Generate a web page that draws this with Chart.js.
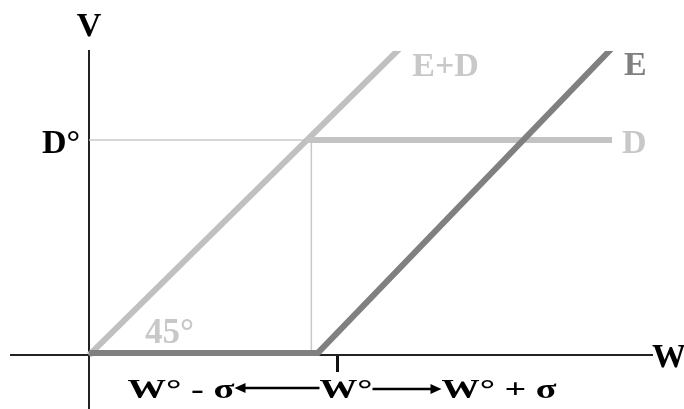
<!DOCTYPE html>
<html>
<head>
<meta charset="utf-8">
<script src="https://cdn.jsdelivr.net/npm/chart.js@4/dist/chart.umd.min.js"></script>
<style>
  html, body { margin: 0; padding: 0; background: #fff; }
  #wrap { width: 684px; height: 409px; position: relative; }
</style>
</head>
<body>
<div id="wrap"><canvas id="payoff"></canvas></div>
<script>
// values, D° = 100
const D0 = 100;
const W0 = 114;

const eW = [0, 105, 244];
const eV = [1, 1, 147];

const edW = [0, 146];
const edV = [0, 146];

const dW = [100, 240];
const dV = [100, 100];

const guideHW = [0, 102];
const guideHV = [100, 100];
const guideVW = [102, 102];
const guideVV = [0, 100];

function pts(xs, ys) {
    return xs.map(function (x, i) { return { x: x, y: ys[i] }; });
}

const SERIF = "\"Liberation Serif\", \"Times New Roman\", serif";

function fitText(ctx, text, left, baseline, width) {
    const w = ctx.measureText(text).width;
    ctx.save();
    ctx.translate(left, baseline);
    ctx.scale(width / w, 1);
    ctx.textAlign = "left";
    ctx.fillText(text, 0, 0);
    ctx.restore();
}

function arrow(ctx, from, to, y) {
    const dir = to > from ? 1 : -1;
    ctx.save();
    ctx.strokeStyle = "#000";
    ctx.fillStyle = "#000";
    ctx.lineWidth = 2.5;
    ctx.beginPath();
    ctx.moveTo(from, y);
    ctx.lineTo(to - dir * 8, y);
    ctx.stroke();
    ctx.beginPath();
    ctx.moveTo(to, y);
    ctx.lineTo(to - dir * 11, y - 5);
    ctx.lineTo(to - dir * 11, y + 5);
    ctx.closePath();
    ctx.fill();
    ctx.restore();
}

const textPlugin = {
    id: "textPlugin",
    afterDraw(chart) {
        const ctx = chart.ctx;
        const xs = chart.scales.x;
        const ys = chart.scales.y;
        const ox = xs.getPixelForValue(0);
        const oy = ys.getPixelForValue(0);
        const dy = ys.getPixelForValue(D0);
        const top = chart.chartArea.top;
        const tick = xs.getPixelForValue(W0);

        ctx.save();
        ctx.textBaseline = "alphabetic";

        ctx.font = "bold 34px " + SERIF;
        ctx.fillStyle = "#000";
        ctx.textAlign = "center";
        ctx.fillText("V", ox, top - 15);
        ctx.textAlign = "right";
        ctx.fillText("D\u00b0", ox - 9, dy + 13);
        ctx.textAlign = "left";
        ctx.fillText("W", chart.chartArea.right, oy + 12);

        ctx.fillStyle = "#c8c8c8";
        ctx.fillText("E+D", xs.getPixelForValue(edW[1]) + 5, top + 25);
        ctx.fillText("D", xs.getPixelForValue(dW[1]) + 10, dy + 13);
        ctx.fillStyle = "#808080";
        ctx.fillText("E", xs.getPixelForValue(dW[1]) + 12, top + 24);

        ctx.font = "bold 35px " + SERIF;
        ctx.fillStyle = "#c8c8c8";
        ctx.fillText("45\u00b0", ox + 56, oy - 12);

        ctx.font = "bold 28px " + SERIF;
        ctx.fillStyle = "#000";
        fitText(ctx, "W\u00b0 - \u03c3", tick - 210, oy + 43, 107);
        arrow(ctx, tick - 18, tick - 103, oy + 33);
        fitText(ctx, "W\u00b0", tick - 18, oy + 43, 53);
        arrow(ctx, tick + 35, tick + 104, oy + 34);
        fitText(ctx, "W\u00b0 + \u03c3", tick + 104, oy + 43, 115);

        ctx.restore();
    }
};

new Chart(document.getElementById("payoff"), {
    type: "line",
    data: {
        datasets: [
            {
                label: "E",
                data: pts(eW, eV),
                borderColor: "#808080",
                borderWidth: 6,
                borderJoinStyle: "miter",
                pointRadius: 0,
                clip: 0
            },
            {
                label: "D",
                data: pts(dW, dV),
                borderColor: "#c3c3c3",
                borderWidth: 6,
                pointRadius: 0,
                clip: 0
            },
            {
                label: "E+D",
                data: pts(edW, edV),
                borderColor: "#c0c0c0",
                borderWidth: 6,
                pointRadius: 0,
                clip: 0
            },
            {
                label: "guide h",
                data: pts(guideHW, guideHV),
                borderColor: "#c8c8c8",
                borderWidth: 1.5,
                pointRadius: 0
            },
            {
                label: "guide v",
                data: pts(guideVW, guideVV),
                borderColor: "#c8c8c8",
                borderWidth: 1.5,
                pointRadius: 0
            }
        ]
    },
    options: {
        responsive: true,
        maintainAspectRatio: false,
        animation: false,
        layout: { padding: { left: 11, top: 51, right: 32, bottom: 0 } },
        plugins: {
            legend: { display: false },
            tooltip: { enabled: false }
        },
        scales: {
            x: {
                type: "linear",
                min: -35.8,
                max: 258.3,
                position: { y: 0 },
                afterBuildTicks: function (scale) {
                    scale.ticks = [{ value: W0 }];
                },
                ticks: { display: false },
                grid: {
                    display: true,
                    drawOnChartArea: false,
                    drawTicks: true,
                    tickLength: 16,
                    tickWidth: 3,
                    tickColor: "#111"
                },
                border: { display: true, color: "#222", width: 2 }
            },
            y: {
                type: "linear",
                min: -25.1,
                max: 141.4,
                position: { x: 0 },
                ticks: { display: false },
                grid: { display: false },
                border: { display: true, color: "#222", width: 2 }
            }
        }
    },
    plugins: [textPlugin]
});
</script>
</body>
</html>
